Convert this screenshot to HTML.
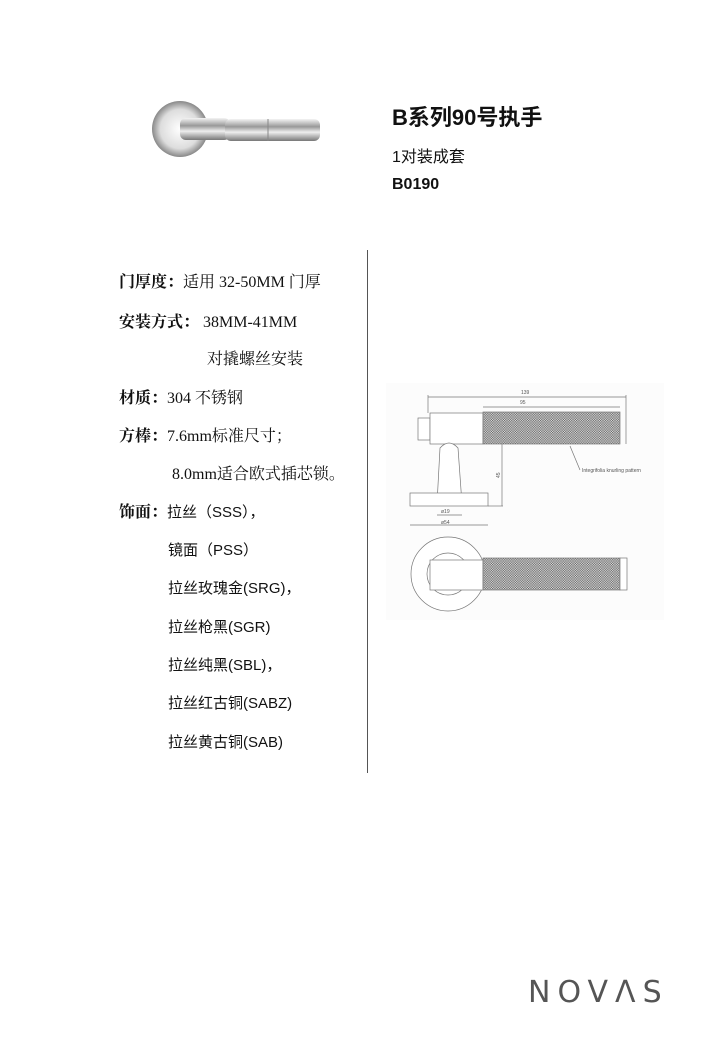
<!DOCTYPE html>
<html><head><meta charset="utf-8"><style>
body{margin:0;width:720px;height:1040px;background:#fff;position:relative;font-family:"Liberation Serif","Noto Serif CJK SC","Noto Sans CJK SC",serif;color:#111;overflow:hidden}
.t{position:absolute;font-size:16px;white-space:nowrap}
b{font-weight:bold}
.s{font-family:"Liberation Sans","Noto Sans CJK SC",sans-serif;font-size:15px}
</style></head><body>
<svg style="position:absolute;left:150px;top:96px" width="170" height="62">
<defs><linearGradient id="g" x1="0" y1="0" x2="0" y2="1"><stop offset="0" stop-color="#f4f4f4"/><stop offset=".35" stop-color="#999"/><stop offset=".6" stop-color="#eee"/><stop offset="1" stop-color="#777"/></linearGradient>
<radialGradient id="r"><stop offset="0" stop-color="#fff"/><stop offset=".7" stop-color="#ddd"/><stop offset="1" stop-color="#888"/></radialGradient></defs>
<circle cx="30" cy="33" r="28" fill="url(#r)"/>
<rect x="30" y="22" width="50" height="22" rx="6" fill="url(#g)"/>
<rect x="75" y="23" width="95" height="22" rx="6" fill="url(#g)"/>
<line x1="118" y1="23" x2="118" y2="45" stroke="#888"/>
</svg>
<div class="t" style="left:392px;top:100px;font-size:22px;font-weight:bold;font-family:'Liberation Sans','Noto Sans CJK SC',sans-serif">B系列90号执手</div>
<div class="t" style="left:392px;top:143px;font-size:16px;font-family:'Liberation Sans','Noto Sans CJK SC',sans-serif">1对装成套</div>
<div class="t" style="left:392px;top:176px;font-size:16px;font-weight:bold;font-family:'Liberation Sans',sans-serif">B0190</div>
<div style="position:absolute;left:367px;top:250px;width:1px;height:523px;background:#555"></div>
<div class="t" style="left:119px;top:269px"><b>门厚度：</b>适用 32-50MM 门厚</div>
<div class="t" style="left:119px;top:309px"><b>安装方式：</b> 38MM-41MM</div>
<div class="t" style="left:207px;top:346px">对撬螺丝安装</div>
<div class="t" style="left:119px;top:385px"><b>材质：</b>304 不锈钢</div>
<div class="t" style="left:119px;top:423px"><b>方棒：</b>7.6mm标准尺寸；</div>
<div class="t" style="left:172px;top:461px">8.0mm适合欧式插芯锁。</div>
<div class="t" style="left:119px;top:499px"><b>饰面：</b><span class="s">拉丝（SSS），</span></div>
<div class="t s" style="left:168px;top:539px">镜面（PSS）</div>
<div class="t s" style="left:168px;top:577px">拉丝玫瑰金(SRG)，</div>
<div class="t s" style="left:168px;top:616px">拉丝枪黑(SGR)</div>
<div class="t s" style="left:168px;top:654px">拉丝纯黑(SBL)，</div>
<div class="t s" style="left:168px;top:692px">拉丝红古铜(SABZ)</div>
<div class="t s" style="left:168px;top:731px">拉丝黄古铜(SAB)</div>
<svg style="position:absolute;left:0;top:0" width="720" height="1040" font-family="Liberation Sans" font-size="5" fill="none" stroke="#777" stroke-width=".7">
<defs><pattern id="k" width="2.4" height="2.4" patternUnits="userSpaceOnUse"><rect width="2.4" height="2.4" fill="#ddd" stroke="none"/><rect width="1.2" height="1.2" fill="#666" stroke="none"/><rect x="1.2" y="1.2" width="1.2" height="1.2" fill="#666" stroke="none"/></pattern></defs>
<rect x="386" y="383" width="278" height="237" fill="#fcfcfc" stroke="none"/>
<line x1="428" y1="397" x2="626" y2="397"/><line x1="483" y1="407" x2="620" y2="407"/>
<line x1="428" y1="395" x2="428" y2="413"/><line x1="626" y1="395" x2="626" y2="444"/>
<rect x="418" y="418" width="12" height="22" fill="#fff"/>
<rect x="430" y="413" width="53" height="31" fill="#fff"/>
<rect x="483" y="412" width="137" height="32" fill="url(#k)"/>
<path d="M437 504 L440 448 Q449 438 458 448 L462 504" fill="#fff"/>
<rect x="410" y="493" width="78" height="13" fill="#fff"/>
<line x1="502" y1="444" x2="502" y2="506"/><line x1="488" y1="506" x2="503" y2="506"/>
<line x1="410" y1="525" x2="488" y2="525"/><line x1="437" y1="515" x2="462" y2="515"/>
<line x1="570" y1="446" x2="580" y2="470"/>
<circle cx="448" cy="574" r="37" fill="#fff"/>
<circle cx="448" cy="574" r="21"/>
<rect x="430" y="560" width="53" height="30" fill="#fff"/>
<rect x="483" y="558" width="137" height="32" fill="url(#k)"/>
<rect x="620" y="558" width="7" height="32" fill="#fff"/>
<g fill="#555" stroke="none"><text x="521" y="394">139</text><text x="520" y="404">95</text><text x="582" y="472">Integrifolia knurling pattern</text><text x="441" y="513">ø19</text><text x="441" y="524">ø54</text><text x="500" y="478" transform="rotate(-90 500 478)">45</text></g>
</svg>
<div class="t" style="left:528px;top:975px;font-size:30px;letter-spacing:7px;color:#555;font-family:'DejaVu Sans','Liberation Sans',sans-serif;font-weight:normal;-webkit-text-stroke:0">NOVΛS</div>
</body></html>
